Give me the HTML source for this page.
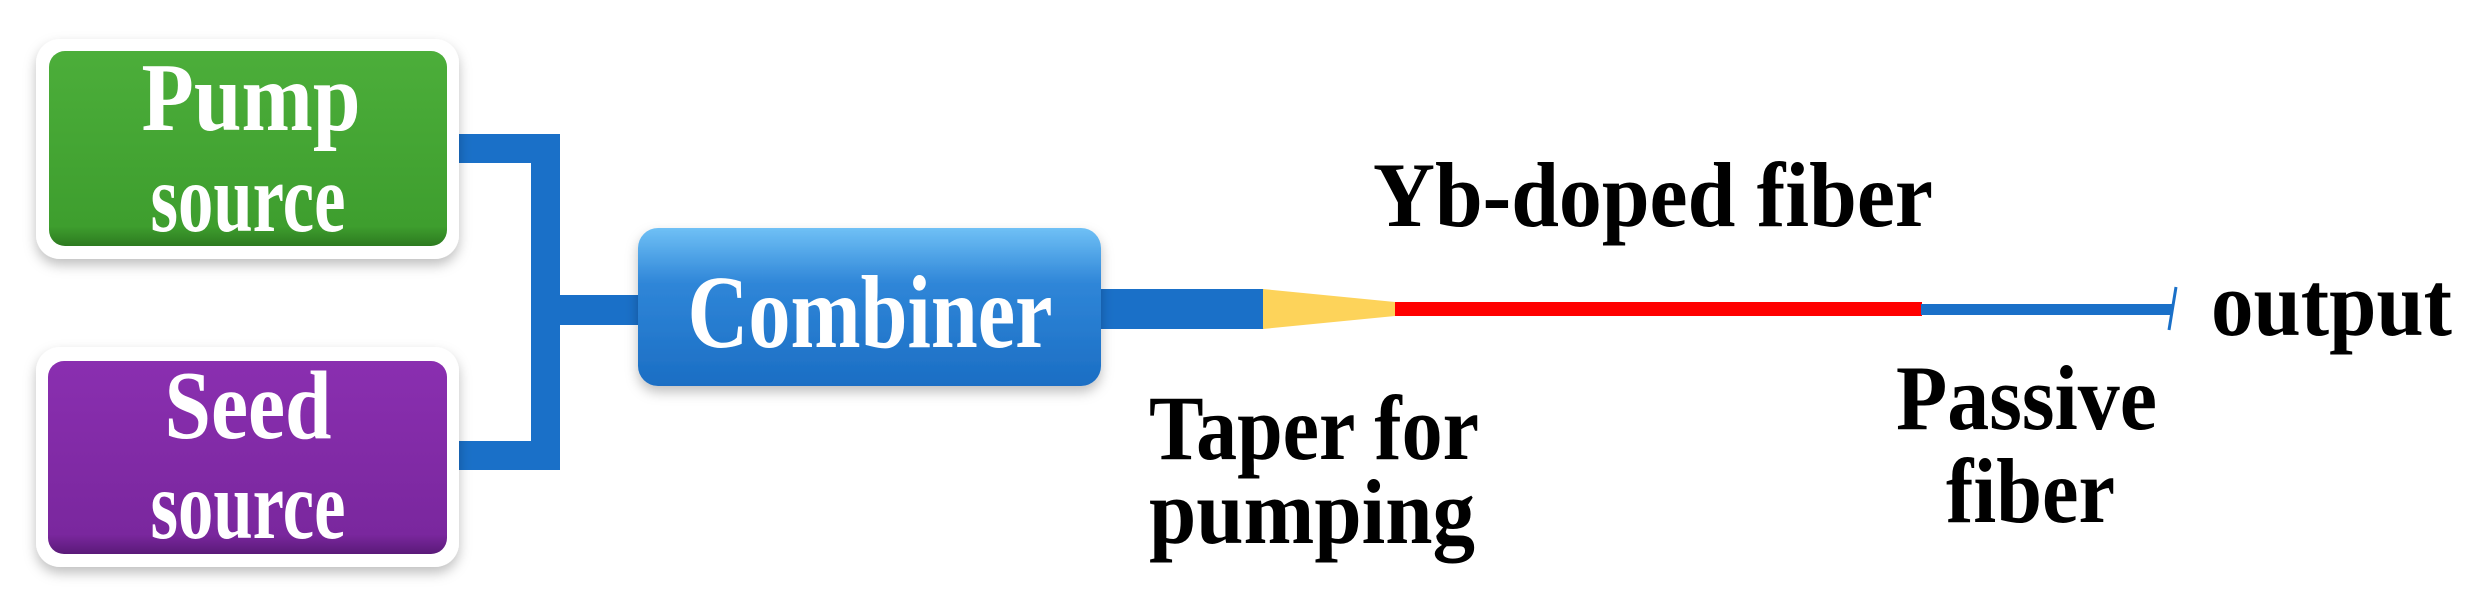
<!DOCTYPE html>
<html><head><meta charset="utf-8"><style>html,body{margin:0;padding:0;background:#fff;}svg{display:block}</style></head>
<body>
<svg width="2480" height="611" viewBox="0 0 2480 611" xmlns="http://www.w3.org/2000/svg">
<defs>
<linearGradient id="gg" x1="0" y1="0" x2="0" y2="1"><stop offset="0" stop-color="#4cae3a"/><stop offset="0.9" stop-color="#3e9e2e"/><stop offset="1" stop-color="#2d7a20"/></linearGradient>
<linearGradient id="pg" x1="0" y1="0" x2="0" y2="1"><stop offset="0" stop-color="#8a2fb0"/><stop offset="0.9" stop-color="#7a279e"/><stop offset="1" stop-color="#5a1a78"/></linearGradient>
<linearGradient id="bg" x1="0" y1="0" x2="0" y2="1"><stop offset="0" stop-color="#6fc0f5"/><stop offset="0.35" stop-color="#2f86d8"/><stop offset="1" stop-color="#1b6ec4"/></linearGradient>
<filter id="sh" x="-10%" y="-10%" width="120%" height="130%"><feDropShadow dx="0" dy="6" stdDeviation="6" flood-color="#000" flood-opacity="0.25"/></filter>
</defs>
<g fill="#1a70c8">
<rect x="452" y="134" width="108" height="29"/>
<rect x="531" y="134" width="29" height="336"/>
<rect x="452" y="441" width="108" height="29"/>
<rect x="560" y="295" width="82" height="30"/>
<rect x="1098" y="289" width="166" height="40"/>
</g>
<polygon points="1263,289 1395,302 1395,316 1263,329" fill="#fdd35a"/>
<rect x="1395" y="302" width="527" height="14" fill="#ff0000"/>
<rect x="1921" y="304" width="252" height="11" fill="#1a70c8"/>
<line x1="2176" y1="287" x2="2169" y2="330" stroke="#1a70c8" stroke-width="3"/>
<rect x="36" y="39" width="423" height="220" rx="24" fill="#fff" filter="url(#sh)"/>
<rect x="49" y="51" width="398" height="195" rx="16" fill="url(#gg)"/>
<rect x="36" y="347" width="423" height="220" rx="24" fill="#fff" filter="url(#sh)"/>
<rect x="48" y="361" width="399" height="193" rx="16" fill="url(#pg)"/>
<rect x="638" y="228" width="463" height="158" rx="20" fill="url(#bg)" filter="url(#sh)"/>
<g font-family="Liberation Serif, serif" font-weight="bold" fill="#fff" font-size="98" text-anchor="middle">
<text x="251" y="130" textLength="219" lengthAdjust="spacingAndGlyphs">Pump</text>
<text x="248" y="231" textLength="195" lengthAdjust="spacingAndGlyphs">source</text>
<text x="248" y="438" textLength="167" lengthAdjust="spacingAndGlyphs">Seed</text>
<text x="248" y="538" textLength="195" lengthAdjust="spacingAndGlyphs">source</text>
<text x="870" y="347" font-size="104" textLength="365" lengthAdjust="spacingAndGlyphs">Combiner</text>
</g>
<g font-family="Liberation Serif, serif" font-weight="bold" fill="#000" font-size="92">
<text x="1373" y="226" textLength="560" lengthAdjust="spacingAndGlyphs">Yb-doped fiber</text>
<text x="1149" y="459" textLength="330" lengthAdjust="spacingAndGlyphs">Taper for</text>
<text x="1149" y="543" textLength="326" lengthAdjust="spacingAndGlyphs">pumping</text>
<text x="1896" y="429" textLength="261" lengthAdjust="spacingAndGlyphs">Passive</text>
<text x="1946" y="522" textLength="169" lengthAdjust="spacingAndGlyphs">fiber</text>
<text x="2211" y="335" textLength="241" lengthAdjust="spacingAndGlyphs">output</text>
</g>
</svg>
</body></html>
